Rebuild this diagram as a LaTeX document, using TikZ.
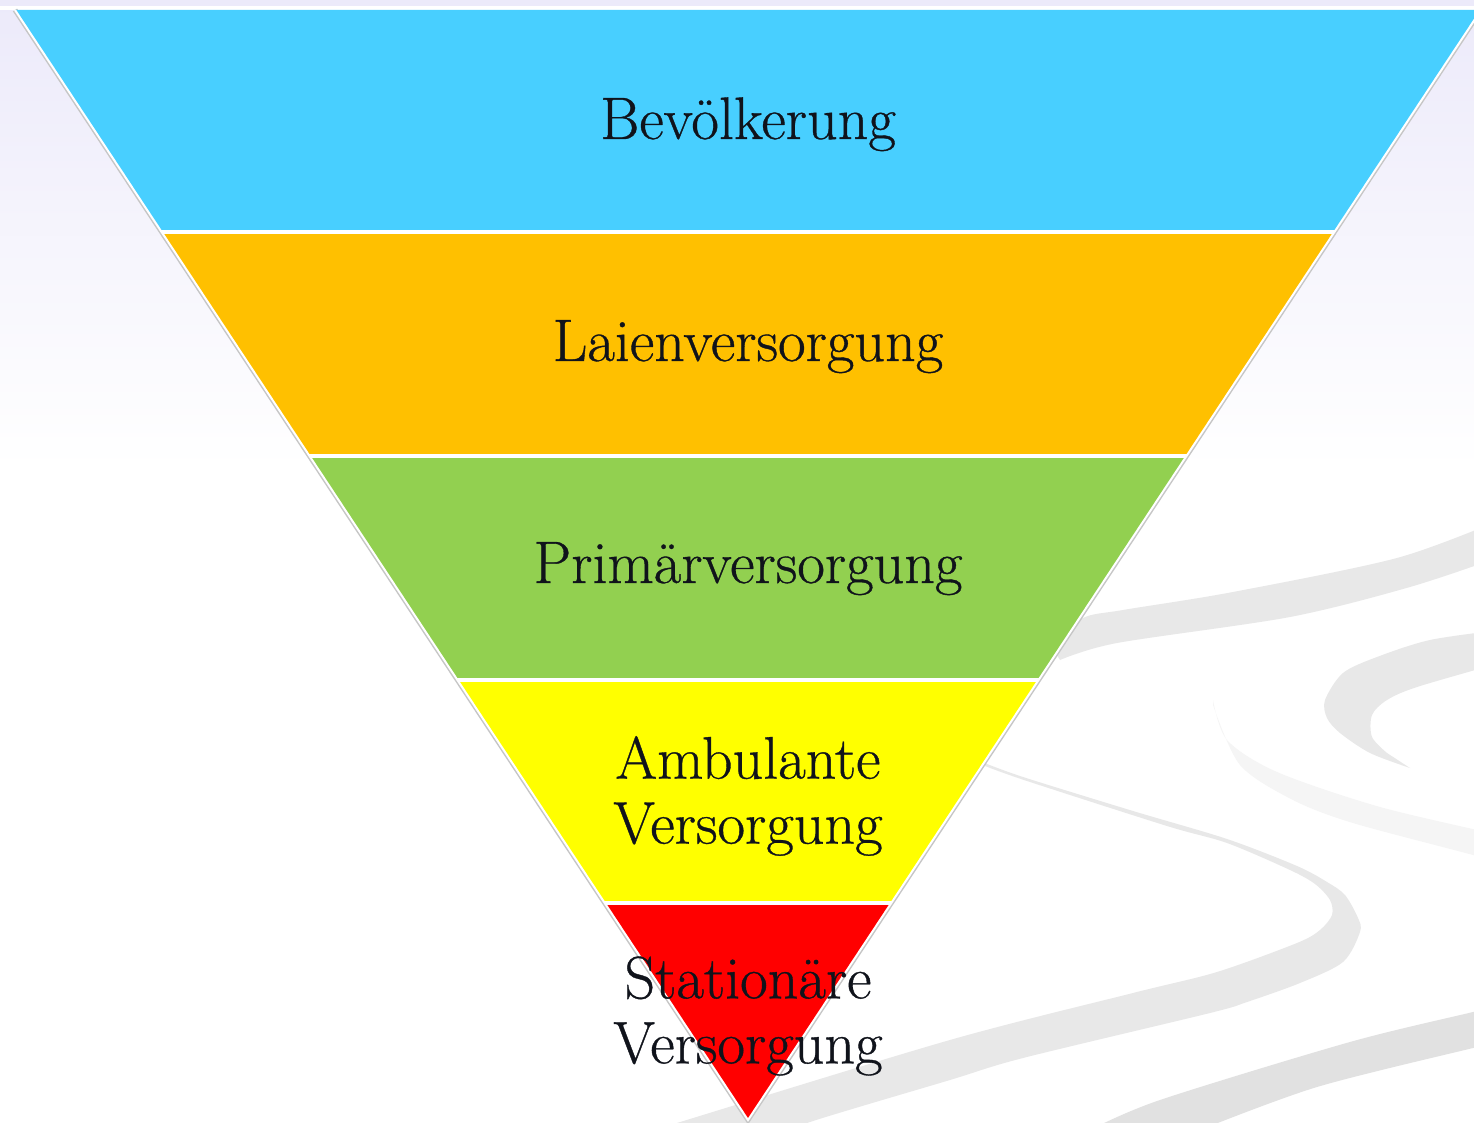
\documentclass[tikz,border=0pt]{standalone}
\usepackage{fontspec}
\usepackage{xcolor}
\usepackage{tikz}
\newfontfamily\lblfont{Latin Modern Roman}[FakeBold=0.6]
\definecolor{bandblue}{HTML}{48CFFF}
\definecolor{bandorange}{HTML}{FFC000}
\definecolor{bandgreen}{HTML}{92D050}
\definecolor{bandyellow}{HTML}{FFFF00}
\definecolor{bandred}{HTML}{FF0000}
\definecolor{bglavender}{HTML}{ECEAFA}
\definecolor{swooshgray}{HTML}{E8E8E8}
\definecolor{swooshpale}{HTML}{F5F5F5}
\definecolor{swooshdark}{HTML}{E1E1E1}
\definecolor{inkdark}{HTML}{10131B}

\begin{document}
\begin{tikzpicture}[
    x=0.5pt, y=-0.5pt,
    swoosh/.style={fill=swooshgray},
    gap/.style={white, line width=2pt},
    rim/.style={white, line width=1pt},
    rimshadow/.style={gray!45, line width=2.5pt},
    lbl/.style={font=\lblfont\fontsize{30}{32.5}\selectfont, text=inkdark, align=center, inner sep=0pt}
  ]
    \useasboundingbox (0,0) rectangle (1474,1123);
    % background
    \fill[white] (0,0) rectangle (1474,1123);
    \shade[top color=bglavender, bottom color=white] (0,0) rectangle (1474,470);
    \begin{scope}
      \clip (0,0) rectangle (1474,1123);
      \fill[swoosh] plot[smooth] coordinates {(1050,645) (1083,618) (1123,610) (1233,592) (1397,558) (1500,520)}
        -- plot[smooth] coordinates {(1500,557) (1410,587) (1290,617) (1117,643) (1060,660)} -- cycle;
      \fill[swoosh] plot[smooth] coordinates {(1500,630) (1430,640) (1377,657) (1343,673) (1325,700) (1327,718) (1340,733) (1370,753) (1410,768)}
        -- plot[smooth] coordinates {(1387,753) (1372,737) (1372,715) (1387,700) (1417,687) (1500,663)} -- cycle;
      \fill[swooshpale] plot[smooth] coordinates {(1213,700) (1227,740) (1277,772) (1380,807) (1500,835)}
        -- plot[smooth] coordinates {(1500,864) (1473,855) (1353,823) (1293,800) (1240,765) (1213,705)} -- cycle;
      \fill[swoosh] plot[smooth] coordinates {(982,762) (1023,777) (1133,811) (1227,839) (1297,866) (1327,882) (1345,895) (1358,918) (1360,932) (1343,962) (1300,983) (1247,1002) (1210,1013) (1023,1058) (950,1080) (807,1123) (790,1135)}
        -- plot[smooth] coordinates {(640,1135) (677,1123) (950,1040) (1133,993) (1217,972) (1297,943) (1320,930) (1332,915) (1330,900) (1315,884) (1290,870) (1227,843) (1167,826) (1027,781) (985,766)} -- cycle;
      \fill[swooshdark] plot[smooth] coordinates {(1500,1005) (1473,1012) (1350,1042) (1160,1100) (1090,1130)}
        -- plot[smooth] coordinates {(1200,1130) (1317,1087) (1473,1048) (1500,1042)} -- cycle;
    \end{scope}
    \draw[white, line width=2pt] (0,8) -- (1474,8);

    % funnel
    \coordinate (tl) at (15,10);
    \coordinate (tr) at (1481,10);
    \coordinate (apex) at (748,1120);
    \draw[rimshadow] (tl) -- (apex) -- (tr);
    \begin{scope}
      \clip (tl) -- (apex) -- (tr) -- cycle;
      \fill[bandblue]   (0,0)   rectangle (1500,232);
      \fill[bandorange] (0,232) rectangle (1500,456);
      \fill[bandgreen]  (0,456) rectangle (1500,680);
      \fill[bandyellow] (0,680) rectangle (1500,903);
      \fill[bandred]    (0,903) rectangle (1500,1130);
      \draw[gap] (0,232) -- (1500,232);
      \draw[gap] (0,456) -- (1500,456);
      \draw[gap] (0,680) -- (1500,680);
      \draw[gap] (0,903) -- (1500,903);
    \end{scope}
    \draw[rim] (tl) -- (apex) -- (tr);

    % labels
    \node[lbl, anchor=base] (pop)  at (748,139) {Bevölkerung};
    \node[lbl, anchor=base] (lay)  at (748,361) {Laienversorgung};
    \node[lbl, anchor=base] (prim) at (748,583) {Primärversorgung};
    \node[lbl] (amb)  at (748,796) {Ambulante\\Versorgung};
    \node[lbl] (stat) at (748,1016) {Stationäre\\Versorgung};
\end{tikzpicture}
\end{document}
